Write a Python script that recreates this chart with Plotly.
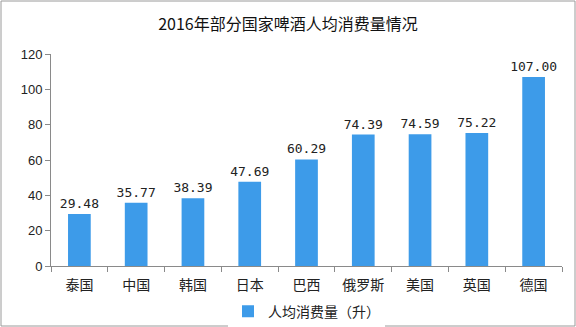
import plotly.graph_objects as go

categories = ["泰国", "中国", "韩国", "日本", "巴西", "俄罗斯", "美国", "英国", "德国"]
values = [29.48, 35.77, 38.39, 47.69, 60.29, 74.39, 74.59, 75.22, 107.00]
series_name = "人均消费量（升）"
title_text = "2016年部分国家啤酒人均消费量情况"

fig = go.Figure()
fig.add_trace(go.Bar(
    x=categories, y=values, name=series_name,
    marker=dict(color="#3D9BE9", line=dict(width=0)),
    text=[f"{v:.2f}" for v in values], textposition="outside",
    constraintext="none",
    textfont=dict(family="DejaVu Sans Mono, monospace", size=13, color="#222222"),
    cliponaxis=False,
))

fig.update_layout(
    width=576, height=327,
    margin=dict(l=51, r=14, t=54, b=61, autoexpand=False),
    paper_bgcolor="white", plot_bgcolor="white",
    title=dict(text=title_text, x=0.5, xanchor="center", y=0.925, yanchor="middle",
               font=dict(family="Noto Sans CJK SC", size=16, color="#111111")),
    bargap=0.6,
    showlegend=True,
    legend=dict(orientation="h", x=0.5, xanchor="center", y=-0.215, yanchor="middle",
                font=dict(family="Noto Sans CJK SC", size=14, color="#222222"),
                itemwidth=30, tracegroupgap=0),
    font=dict(family="Noto Sans CJK SC", color="#222222"),
)
fig.update_xaxes(
    showline=True, linecolor="#8a8a8a", linewidth=1,
    ticks="outside", tickson="boundaries", ticklen=5, tickcolor="#8a8a8a",
    ticklabelstandoff=6,
    tickfont=dict(family="Noto Sans CJK SC", size=14, color="#222222"),
    showgrid=False,
)
fig.update_yaxes(
    range=[0, 120], dtick=20, showline=True, linecolor="#8a8a8a", linewidth=1,
    ticks="outside", ticklen=5, tickcolor="#8a8a8a",
    tickfont=dict(family="Liberation Sans, Arial", size=13, color="#222222"),
    showgrid=False, zeroline=False,
)
fig.add_shape(type="rect", xref="paper", yref="paper", x0=-50/511, x1=1+13/511,
              y0=-60/212, y1=1+53/212, line=dict(color="#9a9a9a", width=1), layer="below")

fig.write_html("out.html")
